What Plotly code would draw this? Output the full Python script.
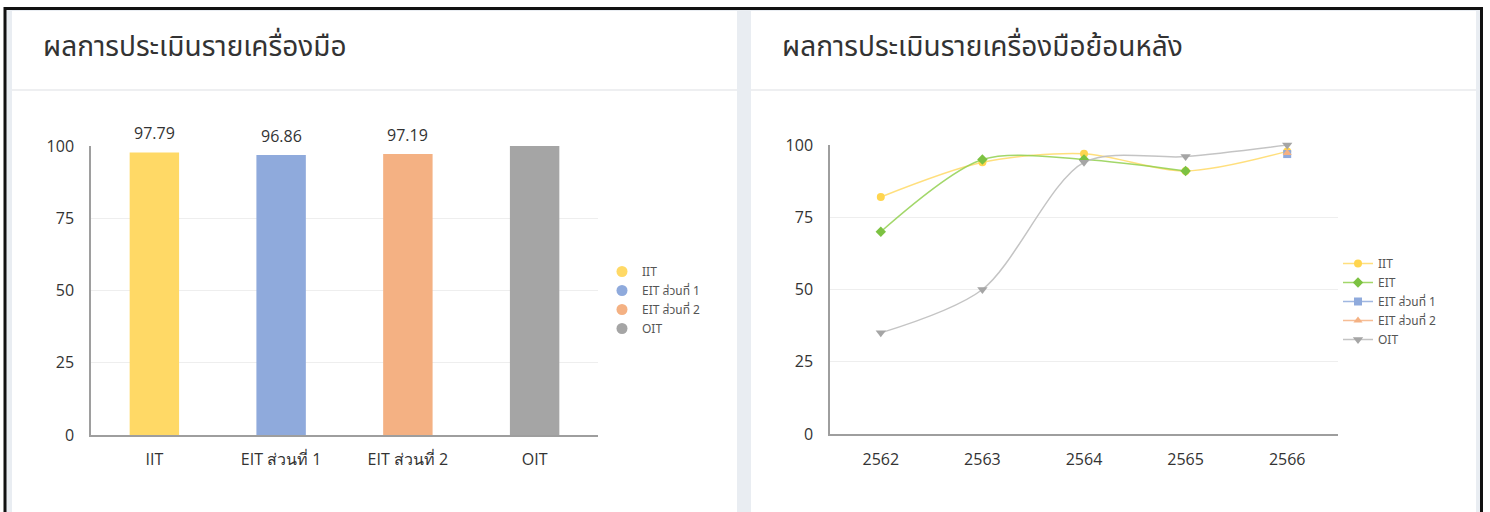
import plotly.graph_objects as go

W, H = 1490, 512

# ---------------- data ----------------
bar_categories = ["IIT", "EIT ส่วนที่ 1", "EIT ส่วนที่ 2", "OIT"]
bar_values = [97.79, 96.86, 97.19, 100]
bar_labels = ["97.79", "96.86", "97.19", ""]
bar_colors = ["#FFD966", "#8FAADC", "#F4B183", "#A5A5A5"]

years = ["2562", "2563", "2564", "2565", "2566"]
iit_hist = [82, 94, 97, 91, 97.79]
eit_hist = [70, 95, 95, 91, None]
eit1_hist = [None, None, None, None, 96.86]
eit2_hist = [None, None, None, None, 97.19]
oit_hist = [35, 50, 94, 96, 100]

y_ticks = [0, 25, 50, 75, 100]

title_left = "ผลการประเมินรายเครื่องมือ"
title_right = "ผลการประเมินรายเครื่องมือย้อนหลัง"

FONT = "Open Sans, Noto Sans, sans-serif"
THAI = "Noto Sans Thai, Leelawadee UI, Tahoma, Noto Sans, sans-serif"


def px(x):
    return x / W


def py(y):
    return 1 - y / H


fig = go.Figure()

# ---------------- bar chart ----------------
fig.add_trace(go.Bar(
    x=bar_categories, y=bar_values,
    marker=dict(color=bar_colors, line=dict(width=0)),
    width=0.39, showlegend=False, xaxis="x", yaxis="y",
))
# legend entries (circle symbols)
for name, col in zip(bar_categories, bar_colors):
    fig.add_trace(go.Scatter(
        x=[None], y=[None], mode="markers", name=name,
        marker=dict(symbol="circle", size=11, color=col),
        xaxis="x", yaxis="y", legend="legend",
    ))

# ---------------- line chart ----------------
series = [
    ("IIT", iit_hist, "#FFD54F", "rgba(255,217,102,0.85)", "circle", 8),
    ("EIT", eit_hist, "#7CC242", "rgba(146,208,80,0.85)", "diamond", 8),
    ("EIT ส่วนที่ 1", eit1_hist, "#8FAADC", "rgba(143,170,220,0.85)", "square", 8),
    ("EIT ส่วนที่ 2", eit2_hist, "#F4B183", "rgba(244,177,131,0.85)", "triangle-up", 8),
    ("OIT", oit_hist, "#A5A5A5", "rgba(190,190,190,0.9)", "triangle-down", 9),
]
for name, vals, mcol, lcol, sym, size in series:
    fig.add_trace(go.Scatter(
        x=years, y=vals, name=name, mode="lines+markers",
        line=dict(color=lcol, width=1.5, shape="spline", smoothing=0.85),
        marker=dict(symbol=sym, size=size, color=mcol),
        xaxis="x2", yaxis="y2", legend="legend2", cliponaxis=False,
    ))

# ---------------- background shapes ----------------
shapes = [
    dict(type="rect", xref="paper", yref="paper",
         x0=px(5), x1=px(1481.5), y0=py(530), y1=py(8.5),
         line=dict(color="#111111", width=3), fillcolor="#E9EDF2", layer="below"),
    dict(type="rect", xref="paper", yref="paper",
         x0=px(12), x1=px(737), y0=py(530), y1=py(11),
         line=dict(width=0), fillcolor="#FFFFFF", layer="below"),
    dict(type="rect", xref="paper", yref="paper",
         x0=px(751), x1=px(1476), y0=py(530), y1=py(11),
         line=dict(width=0), fillcolor="#FFFFFF", layer="below"),
    dict(type="line", xref="paper", yref="paper",
         x0=px(12), x1=px(737), y0=py(90), y1=py(90),
         line=dict(color="#EEEFF1", width=2), layer="below"),
    dict(type="line", xref="paper", yref="paper",
         x0=px(751), x1=px(1476), y0=py(90), y1=py(90),
         line=dict(color="#EEEFF1", width=2), layer="below"),
]

annotations = [
    dict(text=title_left, xref="paper", yref="paper", x=px(41), y=py(47),
         xanchor="left", yanchor="middle", showarrow=False,
         font=dict(size=28, color="#333333", family=THAI)),
    dict(text=title_right, xref="paper", yref="paper", x=px(780), y=py(47),
         xanchor="left", yanchor="middle", showarrow=False,
         font=dict(size=28, color="#333333", family=THAI)),
]
# value labels above the bars
for cat, val, lab in zip(bar_categories, bar_values, bar_labels):
    if lab:
        annotations.append(dict(
            text=lab, x=cat, y=val, xref="x", yref="y",
            xanchor="center", yanchor="bottom", yshift=6, showarrow=False,
            font=dict(size=16, color="#333333", family=FONT)))

axis_common = dict(
    showgrid=False, zeroline=False, showline=True, automargin=False,
    linecolor="#9E9E9E", linewidth=1.5, ticks="",
    tickfont=dict(size=16, color="#333333", family=FONT),
)
yaxis_common = dict(
    range=[0, 100], tickvals=y_ticks, showgrid=True, gridcolor="#EEEEEE",
    gridwidth=1, zeroline=False, showline=True, linecolor="#9E9E9E",
    linewidth=1.5, ticks="", ticklabelstandoff=12, automargin=False,
    tickfont=dict(size=16, color="#333333", family=FONT),
)

fig.update_layout(
    width=W, height=H, autosize=False,
    margin=dict(l=0, r=0, t=0, b=0, pad=0, autoexpand=False),
    paper_bgcolor="#FFFFFF", plot_bgcolor="rgba(0,0,0,0)",
    font=dict(family=FONT, color="#333333"),
    shapes=shapes, annotations=annotations,
    xaxis=dict(domain=[px(91), px(598)], anchor="y", ticklabelstandoff=9,
               **axis_common),
    yaxis=dict(domain=[py(435), py(146)], anchor="x", **yaxis_common),
    xaxis2=dict(domain=[px(830), px(1338)], anchor="y2", ticklabelstandoff=10,
                range=[-0.5, 4.5], type="category", **axis_common),
    yaxis2=dict(domain=[py(434), py(145)], anchor="x2", **yaxis_common),
    legend=dict(x=px(602), y=py(257), xanchor="left", yanchor="top",
                font=dict(size=12, color="#555555", family=THAI),
                bgcolor="rgba(0,0,0,0)", itemwidth=30, tracegroupgap=0),
    legend2=dict(x=px(1338), y=py(249), xanchor="left", yanchor="top",
                 font=dict(size=12, color="#555555", family=THAI),
                 bgcolor="rgba(0,0,0,0)", itemwidth=30, tracegroupgap=0),
    bargap=0.6,
)

post = ("document.documentElement.style.margin='0';"
        "document.body.style.margin='0';"
        "document.body.style.overflow='hidden';"
        "document.documentElement.style.overflow='hidden';"
        "var d=document.getElementById('{plot_id}');"
        "d.style.position='fixed';d.style.top='0px';d.style.left='0px';")

fig.write_html("out.html",
               config={"responsive": False, "displayModeBar": False},
               post_script=post)
